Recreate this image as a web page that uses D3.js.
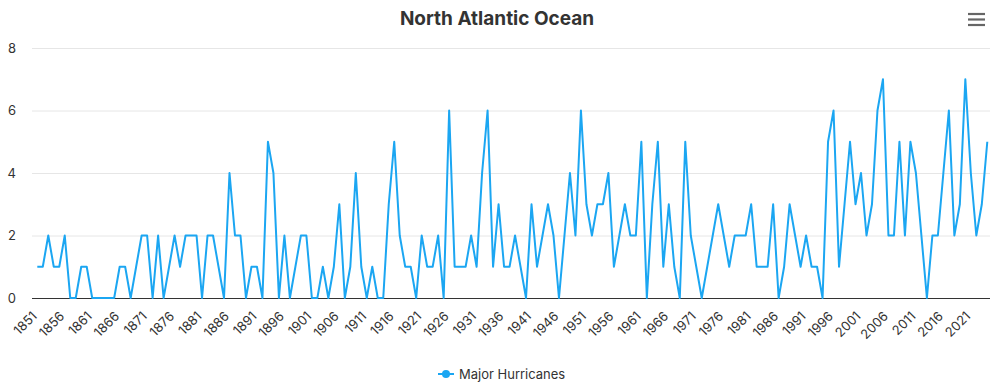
<!DOCTYPE html>
<html>
<head>
<meta charset="utf-8">
<script src="https://cdn.jsdelivr.net/npm/d3@7"></script>
<style>
  body { margin: 0; background: #fff; }
  svg { display: block; font-family: Inter, Roboto, "Liberation Sans", sans-serif; }
</style>
</head>
<body>
<div id="chart"></div>
<script>
// Major hurricanes per season, North Atlantic, 1851 - 2024
const years = d3.range(1851, 2025);
const majorHurricanes = [
  1, 1, 2, 1, 1, 2, 0, 0, 1, 1,   // 1851-1860
  0, 0, 0, 0, 0, 1, 1, 0, 1, 2,   // 1861-1870
  2, 0, 2, 0, 1, 2, 1, 2, 2, 2,   // 1871-1880
  0, 2, 2, 1, 0, 4, 2, 2, 0, 1,   // 1881-1890
  1, 0, 5, 4, 0, 2, 0, 1, 2, 2,   // 1891-1900
  0, 0, 1, 0, 1, 3, 0, 1, 4, 1,   // 1901-1910
  0, 1, 0, 0, 3, 5, 2, 1, 1, 0,   // 1911-1920
  2, 1, 1, 2, 0, 6, 1, 1, 1, 2,   // 1921-1930
  1, 4, 6, 1, 3, 1, 1, 2, 1, 0,   // 1931-1940
  3, 1, 2, 3, 2, 0, 2, 4, 2, 6,   // 1941-1950
  3, 2, 3, 3, 4, 1, 2, 3, 2, 2,   // 1951-1960
  5, 0, 3, 5, 1, 3, 1, 0, 5, 2,   // 1961-1970
  1, 0, 1, 2, 3, 2, 1, 2, 2, 2,   // 1971-1980
  3, 1, 1, 1, 3, 0, 1, 3, 2, 1,   // 1981-1990
  2, 1, 1, 0, 5, 6, 1, 3, 5, 3,   // 1991-2000
  4, 2, 3, 6, 7, 2, 2, 5, 2, 5,   // 2001-2010
  4, 2, 0, 2, 2, 4, 6, 2, 3, 7,   // 2011-2020
  4, 2, 3, 5                      // 2021-2024
];
const tickYears = [1851, 1856, 1861, 1866, 1871, 1876, 1881, 1886, 1891, 1896,
  1901, 1906, 1911, 1916, 1921, 1926, 1931, 1936, 1941, 1946, 1951, 1956,
  1961, 1966, 1971, 1976, 1981, 1986, 1991, 1996, 2001, 2006, 2011, 2016, 2021];
const yTicks = [0, 2, 4, 6, 8];
const seriesName = "Major Hurricanes";
const chartTitle = "North Atlantic Ocean";

const width = 994, height = 388;
const plotLeft = 32, plotRight = 990, plotTop = 48, plotBottom = 298;
const lineColor = "#1ba6f2";

const data = years.map((y, i) => ({ year: y, value: majorHurricanes[i] }));

const x = d3.scaleLinear().domain([1851, 2024]).range([37.3, 987.3]);
const y = d3.scaleLinear().domain([0, 8]).range([plotBottom, plotTop]);

const svg = d3.select("#chart").append("svg")
  .attr("width", width)
  .attr("height", height);

// title
svg.append("text")
  .attr("x", width / 2)
  .attr("y", 25)
  .attr("text-anchor", "middle")
  .attr("font-size", 19)
  .attr("font-weight", "bold")
  .attr("fill", "#333")
  .text(chartTitle);

// menu icon
const menu = svg.append("g").attr("stroke", "#666").attr("stroke-width", 2.2);
[14, 19.5, 25].forEach(v => {
  menu.append("line").attr("x1", 968).attr("x2", 985).attr("y1", v).attr("y2", v);
});

// gridlines
svg.append("g")
  .selectAll("line")
  .data(yTicks.filter(d => d > 0))
  .join("line")
  .attr("x1", plotLeft).attr("x2", plotRight)
  .attr("y1", d => y(d) + 0.5).attr("y2", d => y(d) + 0.5)
  .attr("stroke", "#e6e6e6");

// y labels
svg.append("g")
  .selectAll("text")
  .data(yTicks)
  .join("text")
  .attr("x", 16)
  .attr("y", d => y(d))
  .attr("dy", "0.35em")
  .attr("text-anchor", "end")
  .attr("font-size", 13)
  .attr("fill", "#333")
  .text(d => d);

// x axis
const xAxis = d3.axisBottom(x)
  .tickValues(tickYears)
  .tickFormat(d => d)
  .tickSize(0)
  .tickPadding(0);

const gx = svg.append("g")
  .attr("transform", `translate(0,${plotBottom})`)
  .call(xAxis);
gx.select(".domain")
  .attr("d", `M${plotLeft},0.5H${plotRight}`)
  .attr("stroke", "#333");
gx.selectAll("text")
  .attr("font-family", "Inter, Roboto, 'Liberation Sans', sans-serif")
  .attr("font-size", 13)
  .attr("fill", "#333")
  .attr("text-anchor", "end")
  .attr("dy", null)
  .attr("y", 0)
  .attr("transform", "translate(0,19) rotate(-45)");

// line
const line = d3.line()
  .x(d => x(d.year))
  .y(d => y(d.value));

svg.append("path")
  .datum(data)
  .attr("fill", "none")
  .attr("stroke", lineColor)
  .attr("stroke-width", 2)
  .attr("stroke-linejoin", "round")
  .attr("d", line);

// legend
const legend = svg.append("g").attr("transform", "translate(438,374)");
legend.append("line")
  .attr("x1", 0).attr("x2", 16)
  .attr("stroke", lineColor).attr("stroke-width", 2);
legend.append("circle")
  .attr("cx", 8).attr("r", 4)
  .attr("fill", lineColor);
legend.append("text")
  .attr("x", 21)
  .attr("dy", "0.35em")
  .attr("font-size", 13)
  .attr("fill", "#333")
  .text(seriesName);
</script>
</body>
</html>
